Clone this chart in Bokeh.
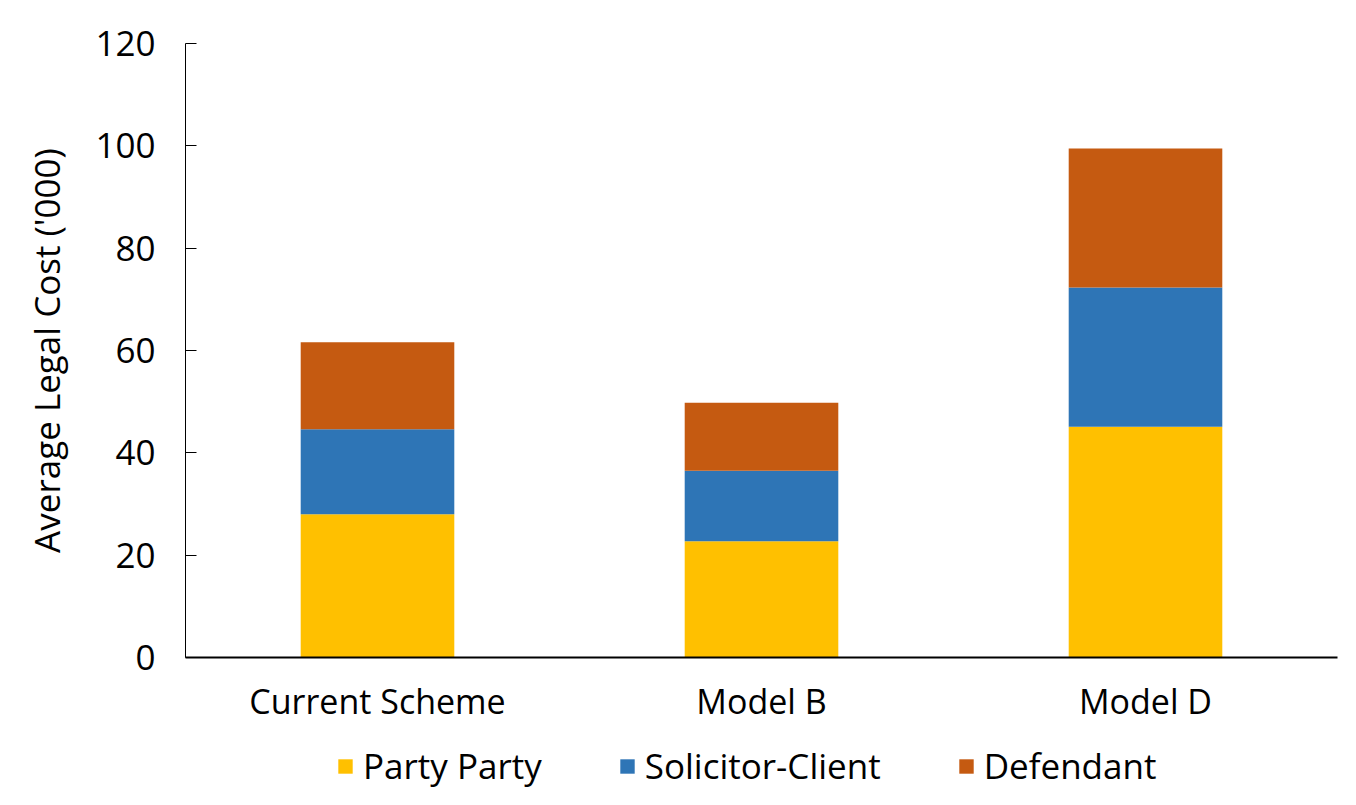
from bokeh.plotting import figure
from bokeh.layouts import column
from bokeh.models import ColumnDataSource, Legend, LegendItem, Range1d, FixedTicker, FactorRange
from bokeh.embed import file_html
from bokeh.resources import INLINE

categories = ["Current Scheme", "Model B", "Model D"]
party_party = [28.0, 22.7, 45.1]
solicitor_client = [16.6, 13.8, 27.2]
defendant = [17.0, 13.3, 27.2]
series = ["Party Party", "Solicitor-Client", "Defendant"]
colors = ["#FFC000", "#2E75B6", "#C55A11"]
y_ticks = [0, 20, 40, 60, 80, 100, 120]

FONT = "Open Sans"

source = ColumnDataSource(data={
    "cat": categories,
    "Party Party": party_party,
    "Solicitor-Client": solicitor_client,
    "Defendant": defendant,
})

p = figure(
    x_range=categories,
    y_range=Range1d(0, 120),
    width=1340, height=730,
    output_backend="svg", toolbar_location=None,
    min_border_left=185, min_border_right=3,
    min_border_top=43, min_border_bottom=73,
)
p.x_range.range_padding = 0.0

renderers = p.vbar_stack(series, x="cat", width=0.4, source=source,
                         color=colors, line_color=None)

p.xgrid.grid_line_color = None
p.ygrid.grid_line_color = None
p.outline_line_color = None
p.background_fill_color = "white"
p.border_fill_color = "white"

p.yaxis.ticker = FixedTicker(ticks=y_ticks)
p.yaxis.axis_label = "Average Legal Cost ('000)"
p.yaxis.axis_label_text_font = FONT
p.yaxis.axis_label_text_font_size = "35px"
p.yaxis.axis_label_text_font_style = "normal"
p.yaxis.axis_label_text_color = "#000000"
p.yaxis.axis_label_standoff = 22
p.yaxis.major_label_text_font = FONT
p.yaxis.major_label_text_font_size = "35px"
p.yaxis.major_label_text_color = "#000000"
p.yaxis.major_label_standoff = 30
p.yaxis.major_tick_in = 11
p.yaxis.major_tick_out = 0
p.yaxis.minor_tick_line_color = None
p.yaxis.axis_line_color = "#000000"
p.yaxis.axis_line_width = 1
p.yaxis.major_tick_line_color = "#000000"

p.xaxis.major_label_text_font = FONT
p.xaxis.major_label_text_font_size = "34px"
p.xaxis.major_label_text_color = "#000000"
p.xaxis.major_label_standoff = 14
p.xaxis.major_tick_line_color = None
p.xaxis.minor_tick_line_color = None
p.xaxis.axis_line_color = "#000000"
p.xaxis.axis_line_width = 2

# legend strip below the chart (its bars lie far outside its visible y range)
p2 = figure(
    width=1340, height=59,
    x_range=FactorRange(*categories), y_range=Range1d(1000, 1001),
    output_backend="svg", toolbar_location=None,
    x_axis_location=None, y_axis_location=None,
    min_border=0,
)
p2.xgrid.grid_line_color = None
p2.ygrid.grid_line_color = None
p2.outline_line_color = None
p2.background_fill_color = "white"
p2.border_fill_color = "white"

proxies = p2.vbar_stack(series, x="cat", width=0.4, source=source,
                        color=colors, line_color=None)

legend = Legend(
    items=[LegendItem(label=s, renderers=[r]) for s, r in zip(series, proxies)],
    orientation="horizontal",
    location=(151, 0),
    label_text_font=FONT,
    label_text_font_size="35px",
    label_text_color="#000000",
    glyph_width=18, glyph_height=18,
    label_standoff=9,
    spacing=76,
    padding=0, margin=0,
    border_line_color=None,
    background_fill_alpha=0,
)
p2.add_layout(legend, "center")

layout = column(p, p2, spacing=0)
open("out.html", "w").write(file_html(layout, INLINE))
